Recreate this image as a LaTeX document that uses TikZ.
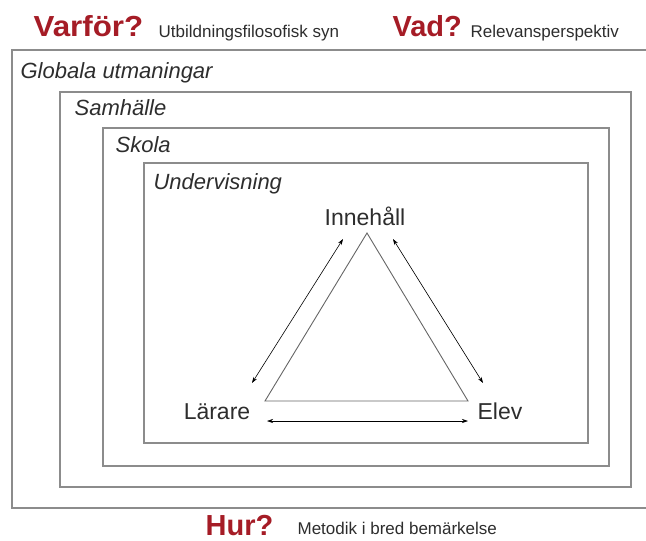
\documentclass[tikz,border=0pt]{standalone}
\usepackage{fontspec}
\setmainfont{Liberation Sans}
\usetikzlibrary{arrows.meta}
\definecolor{qred}{RGB}{165,28,38}
\definecolor{qgray}{RGB}{45,45,45}
\definecolor{boxgray}{RGB}{140,140,140}

\begin{document}
\begin{tikzpicture}[x=1pt,y=-1pt,line width=1.2pt,
    frame/.style={draw=boxgray},
    lvl/.style={anchor=base west,inner sep=0pt,text=qgray,font=\fontsize{22}{24}\selectfont\itshape},
    vertex/.style={anchor=base,inner sep=0pt,text=qgray,font=\fontsize{23}{25}\selectfont},
    quest/.style={anchor=base west,inner sep=0pt,text=qred,font=\fontsize{29}{31}\selectfont\bfseries},
    note/.style={anchor=base west,inner sep=0pt,text=qgray,font=\fontsize{17}{19}\selectfont},
    link/.style={<->,>={Stealth[length=6pt,width=4pt]},line width=0.6pt}]
  \useasboundingbox (0,0) rectangle (646,541);
  \clip (0,0) rectangle (646,541);
  % nested frames
  \draw[frame] (12,50) rectangle (660,508);
  \draw[frame] (60,92) rectangle (631,487);
  \draw[frame] (103,128) rectangle (609,466);
  \draw[frame] (144,163) rectangle (588,443);
  \node[lvl] (global) at (20,78) {Globala utmaningar};
  \node[lvl] (samh) at (74,115) {Samhälle};
  \node[lvl] (skola) at (115,152) {Skola};
  \node[lvl] (underv) at (153,189) {Undervisning};
  % questions
  \node[quest,xscale=1.08] (varfor) at (33,36) {Varför?};
  \node[note] (varforTxt) at (158,37) {Utbildningsfilosofisk syn};
  \node[quest] (vad) at (392,36) {Vad?};
  \node[note] (vadTxt) at (470,37) {Relevansperspektiv};
  \node[quest] (hur) at (205,535) {Hur?};
  \node[note] (hurTxt) at (297,534) {Metodik i bred bemärkelse};
  % didactic triangle
  \coordinate (top) at (367,233);
  \coordinate (left) at (265,401);
  \coordinate (right) at (468,401);
  \draw[line width=0.9pt,draw=black!60] (top) -- (left) -- (right) -- cycle;
  \node[vertex] (innehall) at (365,225) {Innehåll};
  \node[vertex] (larare) at (217,419) {Lärare};
  \node[vertex] (elev) at (500,419) {Elev};
  \coordinate (a1) at (343,239);
  \coordinate (a2) at (252,383);
  \coordinate (b1) at (393,239);
  \coordinate (b2) at (483,383);
  \coordinate (c1) at (267,421);
  \coordinate (c2) at (468,421);
  \draw[link] (a1) -- (a2);
  \draw[link] (b1) -- (b2);
  \draw[link] (c1) -- (c2);
\end{tikzpicture}
\end{document}
